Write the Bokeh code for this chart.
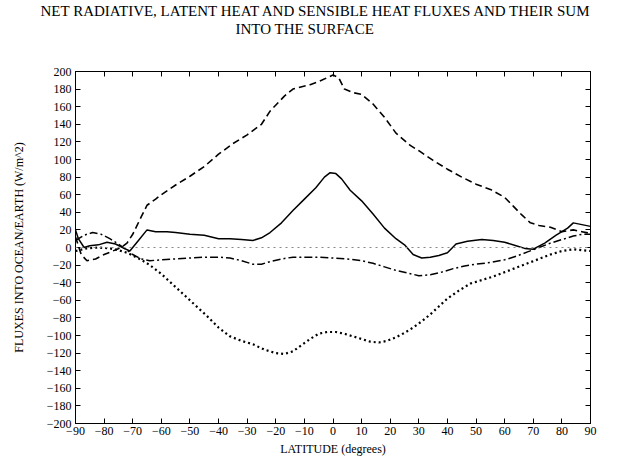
from bokeh.plotting import figure
from bokeh.models import LinearAxis, FixedTicker, Range1d, Span, Title, CustomJSTickFormatter
from bokeh.embed import file_html
from bokeh.resources import INLINE

# Zonal-mean surface fluxes (W/m^2) by latitude
net_lat = [-90, -88, -86, -83, -80, -77, -74, -72, -70, -67, -65, -62, -60, -55, -50, -45, -40,
           -35, -30, -25, -22, -17, -14, -8, -4, 0, 2, 4, 7, 10, 14, 18, 22, 27, 30, 35, 40,
           45, 50, 55, 60, 63, 66, 69, 72, 76, 80, 84, 87, 90]
net_rad = [12, -8, -15, -13, -8, -4, 0, 5, 15, 35, 48, 55, 60, 71, 81, 92, 106,
           118, 128, 140, 155, 172, 180, 185, 190, 196, 193, 180, 176, 174, 163, 148, 130, 116, 110, 99, 89,
           80, 72, 66, 57, 47, 37, 28, 25, 23, 18, 20, 18, 16]

lat_lat = [-90, -86, -82, -78, -75, -72, -70, -67, -64, -60, -56, -52, -48, -44, -40, -36, -32,
           -28, -24, -20, -17, -14, -11, -8, -5, -2, 1, 4, 7, 10, 13, 16, 19, 22, 25, 28, 31,
           34, 37, 40, 44, 48, 52, 56, 60, 64, 68, 72, 76, 80, 84, 87, 90]
latent = [-4, -1, 0, -1, -3, -6, -9, -14, -20, -30, -42, -54, -66, -78, -91, -101, -106,
          -110, -116, -120, -121, -118, -111, -104, -98, -96, -96, -98, -101, -104, -107, -108, -106, -102, -97, -91, -84,
          -76, -67, -58, -49, -41, -37, -33, -28, -23, -18, -13, -8, -4, -2, -3, -4]

sen_lat = [-90, -87, -84, -81, -78, -75, -72, -70, -67, -64, -60, -55, -50, -45, -40, -36, -32,
           -28, -25, -22, -18, -14, -10, -5, 0, 5, 10, 14, 18, 22, 26, 30, 34, 38, 42, 46, 50,
           55, 60, 64, 68, 72, 76, 80, 84, 87, 90]
sensible = [8, 14, 17, 15, 10, 4, -3, -8, -13, -15, -14, -13, -12, -11, -11, -12, -15,
            -19, -19, -16, -13, -11, -11, -11, -12, -13, -15, -18, -22, -26, -29, -32, -31, -28, -24, -21, -19,
            -17, -14, -10, -5, 0, 5, 9, 13, 15, 15]

sum_lat = [-90, -89, -87, -85, -82, -79, -76, -73, -71, -68, -65, -62, -58, -55, -50, -45, -40,
           -36, -32, -28, -25, -22, -18, -14, -10, -6, -3, -1, 1, 3, 6, 10, 14, 18, 22, 25, 28,
           31, 34, 37, 40, 43, 47, 52, 56, 60, 64, 67, 70, 74, 78, 82, 84, 87, 90]
total = [20, 10, 0, 2, 3, 6, 4, -1, -4, 8, 20, 18, 18, 17, 15, 14, 10,
         10, 9, 8, 11, 17, 28, 42, 55, 68, 80, 85, 84, 78, 65, 53, 38, 22, 10, 3, -8,
         -12, -11, -9, -6, 4, 7, 9, 8, 6, 2, -1, -2, 5, 14, 22, 28, 26, 24]

x_ticks = list(range(-90, 91, 10))
y_ticks = list(range(-200, 201, 20))

title_lines = ["NET RADIATIVE, LATENT HEAT AND SENSIBLE HEAT FLUXES AND THEIR SUM",
               "INTO THE SURFACE"]

FONT = "'Liberation Serif', 'Times New Roman', serif"

p = figure(width=620, height=458, output_backend="svg", toolbar_location=None,
           x_range=Range1d(-90, 90), y_range=Range1d(-200, 200),
           title=title_lines[0],
           min_border_left=75, min_border_right=30, min_border_bottom=30, min_border_top=0)
p.title.align = "left"
p.title.offset = -35
p.title.standoff = 0
p.title.text_font = FONT
p.title.text_font_size = "15px"
p.title.text_font_style = "normal"
p.title.text_color = "black"
p.outline_line_color = "black"
p.outline_line_width = 1
p.xgrid.visible = False
p.ygrid.visible = False
p.background_fill_color = "white"
p.border_fill_color = "white"


def style_axis(ax, ticks):
    ax.ticker = FixedTicker(ticks=ticks)
    ax.major_tick_in = 5
    ax.major_tick_out = 0
    ax.minor_tick_in = 0
    ax.minor_tick_out = 0
    ax.axis_line_color = "black"
    ax.major_tick_line_color = "black"
    ax.major_label_text_font = FONT
    ax.major_label_text_font_size = "12px"
    ax.major_label_text_color = "black"
    ax.axis_label_text_font = FONT
    ax.axis_label_text_font_size = "12px"
    ax.axis_label_text_font_style = "normal"
    ax.axis_label_text_color = "black"


style_axis(p.xaxis[0], x_ticks)
style_axis(p.yaxis[0], y_ticks)
p.xaxis.axis_label = "LATITUDE (degrees)"
p.yaxis.axis_label = "FLUXES INTO OCEAN/EARTH (W/m^2)"
p.xaxis.major_label_standoff = 3
p.xaxis.axis_label_standoff = 4
p.yaxis.major_label_standoff = 4
p.yaxis.axis_label_standoff = 18

blank = CustomJSTickFormatter(code="return ''")

# panels above the frame, listed from the frame outwards:
# tick marks on the top edge, an invisible spacer, then the second heading line
top_ax = LinearAxis(formatter=blank)
style_axis(top_ax, x_ticks)
top_ax.major_label_standoff = 0
p.add_layout(top_ax, "above")

spacer = LinearAxis(formatter=blank, ticker=FixedTicker(ticks=[0]))
spacer.axis_line_color = None
spacer.major_tick_line_color = None
spacer.minor_tick_line_color = None
spacer.major_tick_in = 0
spacer.major_tick_out = 35
spacer.minor_tick_out = 0
spacer.major_label_standoff = 0
p.add_layout(spacer, "above")

p.add_layout(Title(text=title_lines[1], align="left", offset=160, standoff=0,
                   text_font=FONT, text_font_size="15px",
                   text_font_style="normal", text_color="black"), "above")

right_ax = LinearAxis(formatter=blank)
style_axis(right_ax, y_ticks)
right_ax.major_label_standoff = 0
p.add_layout(right_ax, "right")

# zero reference
p.add_layout(Span(location=0, dimension="width", line_color="#888888",
                  line_dash="2 4", line_width=1))

p.line(net_lat, net_rad, line_color="black", line_width=1.6, line_dash="7 4")
p.line(lat_lat, latent, line_color="black", line_width=2.2, line_dash="2 3")
p.line(sen_lat, sensible, line_color="black", line_width=1.5, line_dash="8 3 2 3")
p.line(sum_lat, total, line_color="black", line_width=1.5)

open("out.html", "w").write(file_html(p, INLINE))
